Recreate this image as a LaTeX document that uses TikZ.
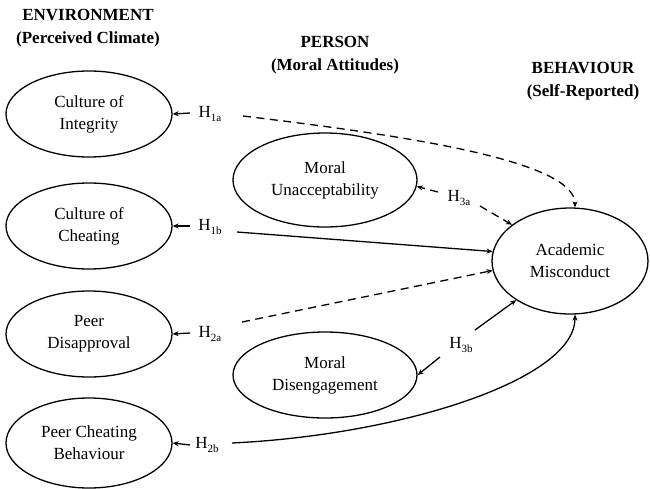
\documentclass[tikz,border=0pt]{standalone}
\usepackage{fontspec}
\setmainfont{Liberation Serif}
\usetikzlibrary{shapes.geometric,arrows.meta}
\tikzset{
  ell/.style={draw, ellipse, line width=1.3pt, inner sep=0pt, align=center,
    font=\fontsize{17}{22}\selectfont},
  title/.style={align=center, font=\fontsize{17}{23}\selectfont\bfseries},
  hlab/.style={inner sep=0pt, font=\fontsize{17}{20}\selectfont},
  conn/.style={line width=1.3pt, -{Stealth[length=6pt,width=5pt]}},
  dsh/.style={dash pattern=on 8pt off 5.5pt},
}
\newcommand{\hyp}[1]{H\raisebox{-0.45ex}{\fontsize{11}{11}\selectfont #1}}
\begin{document}
\begin{tikzpicture}[x=1pt,y=-1pt]
\useasboundingbox (0,0) rectangle (650,488);
% titles
\node[title] (tenv) at (88,28) {ENVIRONMENT\\(Perceived Climate)};
\node[title] (tper) at (335,55) {PERSON\\(Moral Attitudes)};
\node[title] (tbeh) at (583,81) {BEHAVIOUR\\(Self-Reported)};
% environment ellipses
\node[ell, minimum width=166pt, minimum height=86pt] (ci) at (89,114) {Culture of\\Integrity};
\node[ell, minimum width=166pt, minimum height=86pt] (cc) at (89,226) {Culture of\\Cheating};
\node[ell, minimum width=166pt, minimum height=86pt] (pd) at (89,334) {Peer\\Disapproval};
\node[ell, minimum width=166pt, minimum height=90pt] (pc) at (89,443) {Peer Cheating\\Behaviour};
% person ellipses
\node[ell, minimum width=184pt, minimum height=94pt] (mu) at (325,180) {Moral\\Unacceptability};
\node[ell, minimum width=184pt, minimum height=86pt] (md) at (325,375) {Moral\\Disengagement};
% behaviour
\node[ell, minimum width=156pt, minimum height=106pt] (am) at (570,261) {Academic\\Misconduct};
% hypothesis labels
\node[hlab] (h1a) at (210,114) {\hyp{1a}};
\node[hlab] (h1b) at (210,227) {\hyp{1b}};
\node[hlab] (h2a) at (210,334) {\hyp{2a}};
\node[hlab] (h2b) at (207,445) {\hyp{2b}};
\node[hlab] (h3a) at (459,198) {\hyp{3a}};
\node[hlab] (h3b) at (461,345) {\hyp{3b}};
% short arrows to environment ellipses
\draw[conn] ([shift={(-20,-1)}]h1a.center) -- (ci.east);
\draw[conn] ([shift={(-20,-1)}]h1b.center) -- (cc.east);
\draw[conn] ([shift={(-20,-1)}]h2a.center) -- (pd.east);
\draw[conn] ([shift={(-17,0)}]h2b.center) -- (pc.east);
% paths to academic misconduct
\draw[conn, dsh] ([shift={(33,2)}]h1a.center) .. controls (400,135) and (575,160) .. ([xshift=5pt]am.north);
\draw[conn] ([shift={(27,5)}]h1b.center) -- (am.173);
\draw[conn, dsh] ([shift={(32,-12)}]h2a.center) -- (am.187);
\draw[conn] ([shift={(25,-2)}]h2b.center) .. controls (400,435) and (575,380) .. ([xshift=5pt]am.south);
% H3 paths
\draw[conn, dsh] ([shift={(-21,-6)}]h3a.center) -- (mu.-4);
\draw[conn, dsh] ([shift={(21,8)}]h3a.center) -- (am.148);
\draw[conn] ([shift={(-21,12)}]h3b.center) -- (md.east);
\draw[conn] ([shift={(14,-15)}]h3b.center) -- (am.216);
\end{tikzpicture}
\end{document}
